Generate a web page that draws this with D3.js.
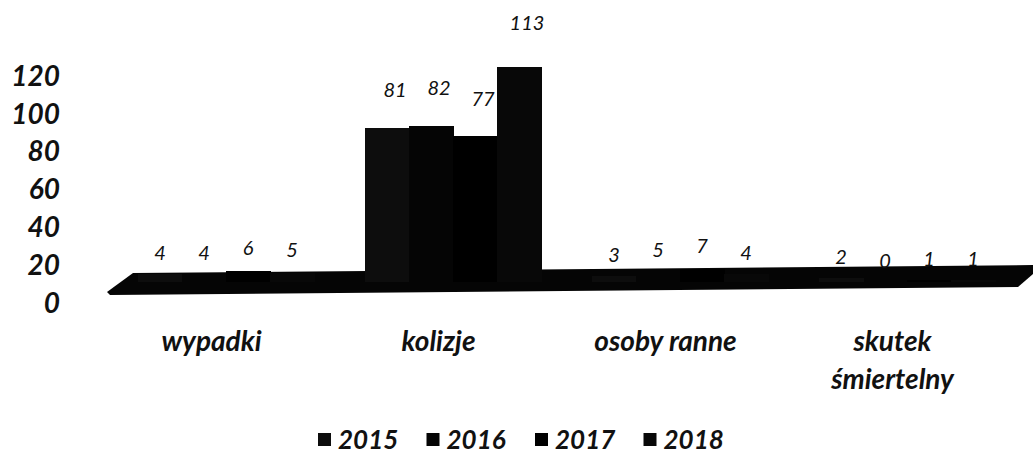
<!DOCTYPE html>
<html>
<head>
<meta charset="utf-8">
<script src="https://cdn.jsdelivr.net/npm/d3@7"></script>
<style>
  body { margin: 0; background: #fff; }
  text { font-family: Lato, "Open Sans", sans-serif; font-style: italic; }
</style>
</head>
<body>
<script>
"use strict";

const width = 1035;
const height = 460;

const categories = ["wypadki", "kolizje", "osoby ranne", "skutek śmiertelny"];
const years = ["2015", "2016", "2017", "2018"];
const v2015 = [4, 81, 3, 2];
const v2016 = [4, 82, 5, 0];
const v2017 = [6, 77, 7, 1];
const v2018 = [5, 113, 4, 1];
const yTicks = [0, 20, 40, 60, 80, 100, 120];

const series = [v2015, v2016, v2017, v2018];
const colors = ["#0d0d0d", "#050505", "#000000", "#080808"];

const svg = d3
  .select("body")
  .append("svg")
  .attr("width", width)
  .attr("height", height);

const x = d3.scaleBand().domain(categories).range([105, 1015]).round(true);
const inner = d3.scaleBand().domain(years).range([0, 176]);
// front of the bars and the back wall of the 3D chart
const y = d3.scaleLinear().domain([0, 120]).range([282, 54]);
const yWall = d3.scaleLinear().domain([0, 120]).range([303, 76]);
const yLabel = d3.scaleLinear().domain([0, 120]).range([268, 15]);

const dx = 6;
function barX(c, i) {
  return Math.round(x(c) + x.bandwidth() / 2 - 88 + dx + inner(years[i]));
}

// y axis labels (no line)
svg
  .selectAll(".ytick")
  .data(yTicks)
  .enter()
  .append("text")
  .attr("class", "ytick")
  .attr("x", 60)
  .attr("y", (d) => yWall(d))
  .attr("dy", "0.35em")
  .attr("text-anchor", "end")
  .attr("font-size", 28)
  .attr("font-weight", "bold")
  .attr("fill", "#111")
  .text((d) => d);

// floor
svg
  .append("path")
  .attr("d", "M107,292 L133,273 L1033,265 L1033,274 L1018,287 L110,295 Z")
  .attr("fill", "#050505");

// bars (1px overlap so the block reads as one solid shape)
series.forEach(function (vals, i) {
  svg
    .selectAll(".bar" + i)
    .data(categories)
    .enter()
    .append("rect")
    .attr("class", "bar" + i)
    .attr("x", (c) => barX(c, i))
    .attr("y", (c, j) => y(vals[j]))
    .attr("width", inner.bandwidth() + 1)
    .attr("height", (c, j) => y(0) - y(vals[j]))
    .attr("shape-rendering", "crispEdges")
    .attr("fill", colors[i]);
});

// value labels
series.forEach(function (vals, i) {
  svg
    .selectAll(".val" + i)
    .data(categories)
    .enter()
    .append("text")
    .attr("class", "val" + i)
    .attr("x", (c) => barX(c, i) + inner.bandwidth() / 2 + (c === "kolizje" ? 8 : 0))
    .attr("y", (c, j) => yLabel(vals[j]))
    .attr("text-anchor", "middle")
    .attr("font-size", 20)
    .attr("fill", "#111")
    .text((c, j) => vals[j]);
});

// category labels
const catLabels = svg
  .selectAll(".cat")
  .data(categories)
  .enter()
  .append("text")
  .attr("class", "cat")
  .attr("x", (c) => x(c) + x.bandwidth() / 2 - 8)
  .attr("y", 351)
  .attr("text-anchor", "middle")
  .attr("font-size", 28)
  .attr("font-weight", "bold")
  .attr("fill", "#111");

catLabels.each(function (c) {
  const words = c === "skutek śmiertelny" ? ["skutek", "śmiertelny"] : [c];
  const t = d3.select(this);
  words.forEach(function (w, k) {
    t.append("tspan")
      .attr("x", x(c) + x.bandwidth() / 2 - 8)
      .attr("dy", k === 0 ? 0 : 38)
      .text(w);
  });
});

// legend
const legend = svg
  .selectAll(".legend")
  .data(years)
  .enter()
  .append("g")
  .attr("class", "legend")
  .attr("transform", (d, i) => "translate(" + (318 + i * 108.5) + ",440)");

legend
  .append("rect")
  .attr("x", 0)
  .attr("y", -7)
  .attr("width", 13)
  .attr("height", 13)
  .attr("fill", (d, i) => colors[i]);

legend
  .append("text")
  .attr("x", 20)
  .attr("y", 0)
  .attr("dy", "0.35em")
  .attr("font-size", 26)
  .attr("font-weight", "bold")
  .attr("fill", "#111")
  .text((d) => d);
</script>
</body>
</html>
